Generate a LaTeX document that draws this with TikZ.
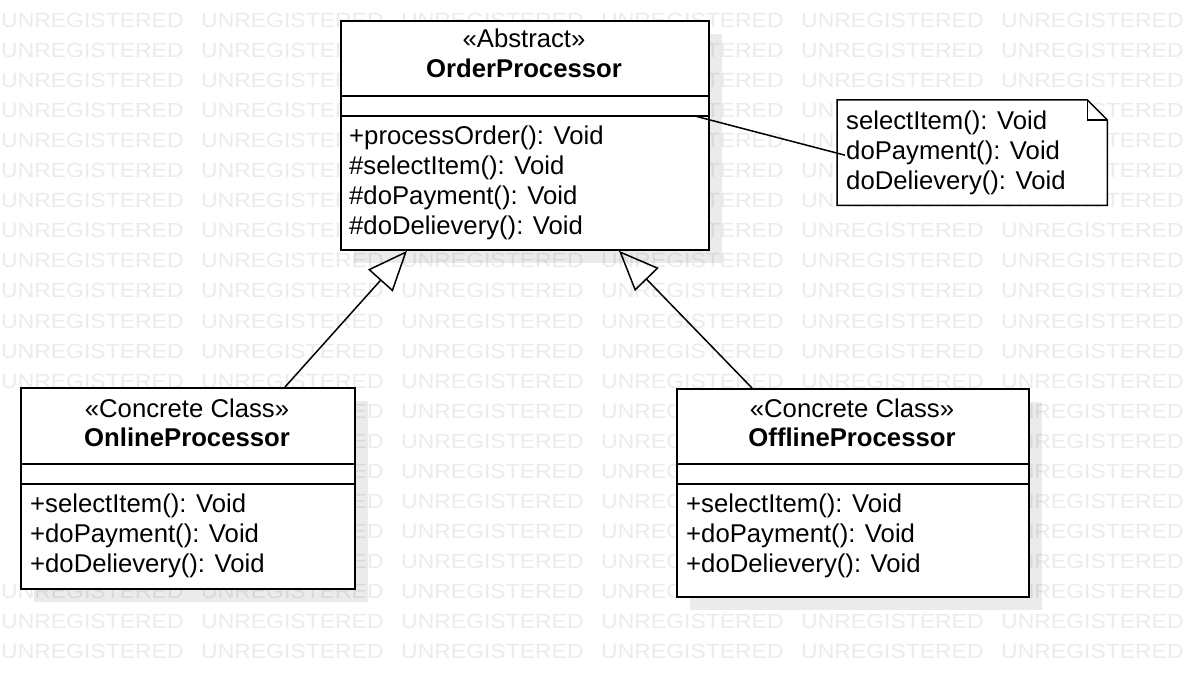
\documentclass[tikz,border=0pt]{standalone}
\usepackage{fontspec}
\setmainfont{Liberation Sans}
\newfontfamily\wmfont[FakeStretch=1.12]{Liberation Sans}
\usetikzlibrary{arrows.meta,shadows,calc}

\begin{document}
\begin{tikzpicture}[x=1pt, y=-1pt,
	classbox/.style = {draw, fill=white, line width=1.8pt, inner sep=0pt, anchor=north west,
		drop shadow={shadow xshift=13pt, shadow yshift=-13pt, fill=black, opacity=0.08}},
	uml/.style = {font=\fontsize{25.7pt}{30pt}\selectfont, inner sep=0pt},
	stereo/.style = {uml, anchor=base},
	cname/.style = {uml, anchor=base, font=\fontsize{25.7pt}{30pt}\selectfont\bfseries},
	optext/.style = {uml, anchor=base west},
	wmtext/.style = {font=\wmfont\fontsize{20.5pt}{20.5pt}\selectfont, text=black!8, inner sep=0pt, anchor=base west},
	inherit/.style = {line width=1.5pt, -{Triangle[open, length=40pt, width=33pt]}},
	sep/.style = {line width=1.8pt}]
	\useasboundingbox (0,0) rectangle (1188,676);
	% watermark (words wholly under a class box are left out)
	\foreach \r in {0,...,21}
		\foreach \c in {0,...,5}{
			\pgfmathtruncatemacro\hid{(\c==2 && \r>=1 && \r<=7) || ((\c==0 || \c==4) && \r>=13 && \r<=18)}
			\ifnum\hid=0
				\node[wmtext] (wm-\r-\c) at (1+200*\c, 28+30*\r) {UNREGISTERED};
			\fi
		}

	% abstract class
	\node[classbox, minimum width=368pt, minimum height=229pt] (order) at (340,20) {};
	\draw[sep] ($(order.north west)+(0,76)$) -- ($(order.north east)+(0,76)$);
	\draw[sep] ($(order.north west)+(0,96)$) -- ($(order.north east)+(0,96)$);
	\node[stereo] (orderst) at (524,48) {«Abstract»};
	\node[cname] (ordername) at (524,78) {OrderProcessor};
	\foreach \t [count=\i] in {+processOrder(): Void, \#selectItem(): Void, \#doPayment(): Void, \#doDelievery(): Void}
		\node[optext] (orderop\i) at (349, 115+30*\i) {\t};

	% concrete classes
	\node[classbox, minimum width=334pt, minimum height=201pt] (online) at (20,387) {};
	\draw[sep] ($(online.north west)+(0,77)$) -- ($(online.north east)+(0,77)$);
	\draw[sep] ($(online.north west)+(0,97)$) -- ($(online.north east)+(0,97)$);
	\node[stereo] (onlinest) at (187,417) {«Concrete Class»};
	\node[cname] (onlinename) at (187,446) {OnlineProcessor};
	\foreach \t [count=\i] in {+selectItem(): Void, +doPayment(): Void, +doDelievery(): Void}
		\node[optext] (onlineop\i) at (30, 482+30*\i) {\t};

	\node[classbox, minimum width=352pt, minimum height=208pt] (offline) at (676,388) {};
	\draw[sep] ($(offline.north west)+(0,76)$) -- ($(offline.north east)+(0,76)$);
	\draw[sep] ($(offline.north west)+(0,96)$) -- ($(offline.north east)+(0,96)$);
	\node[stereo] (offlinest) at (852,417) {«Concrete Class»};
	\node[cname] (offlinename) at (852,446) {OfflineProcessor};
	\foreach \t [count=\i] in {+selectItem(): Void, +doPayment(): Void, +doDelievery(): Void}
		\node[optext] (offlineop\i) at (686, 482+30*\i) {\t};

	% note
	\node[inner sep=0pt, minimum width=270pt, minimum height=105pt, anchor=north west] (note) at (837,100) {};
	\draw[fill=white, line width=1.5pt] (note.north west) -- ($(note.north east)+(-20,0)$)
		-- ($(note.north east)+(0,20)$) -- (note.south east) -- (note.south west) -- cycle;
	\draw[line width=1.5pt] ($(note.north east)+(-20,0)$) |- ($(note.north east)+(0,20)$);
	\foreach \t [count=\i] in {selectItem(): Void, doPayment(): Void, doDelievery(): Void}
		\node[optext] (noteline\i) at (846, 100+30*\i) {\t};

	% connectors
	\coordinate (notefrom) at ($(order.north east)+(-15,96)$);
	\draw[line width=1.5pt] (notefrom) -- ($(note.west)+(8,2.5)$);
	\draw[inherit] ($(online.north west)+(265,0)$) -- ($(order.south west)+(67,0)$);
	\draw[inherit] ($(offline.north west)+(76,0)$) -- ($(order.south west)+(279,0)$);
\end{tikzpicture}
\end{document}
